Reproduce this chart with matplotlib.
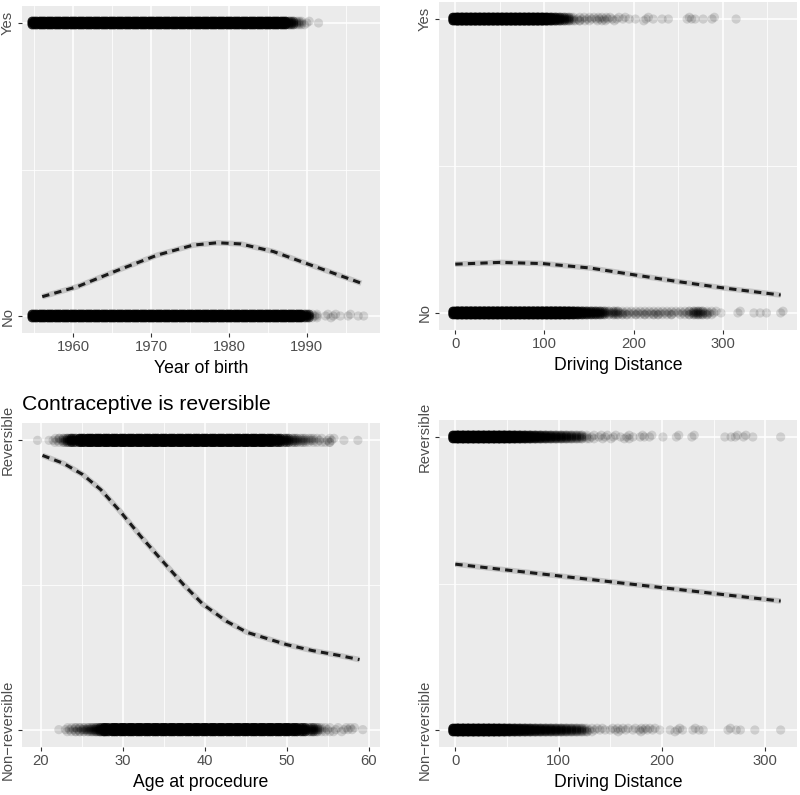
import numpy as np
import matplotlib
matplotlib.use("Agg")
import matplotlib.pyplot as plt

plt.rcParams['font.family'] = ['Liberation Sans', 'DejaVu Sans']

# ---- Panel A: year of birth (No / Yes) ----
birth_yes_x = [1955, 1956, 1957, 1958, 1959, 1960, 1961, 1962, 1963, 1964, 1965, 1966, 1967,
               1968, 1969, 1970, 1971, 1972, 1973, 1974, 1975, 1976, 1977, 1978, 1979, 1980,
               1981, 1982, 1983, 1984, 1985, 1986, 1987, 1988, 1989, 1990, 1991.5]
birth_yes_n = [110, 150, 150, 150, 150, 150, 150, 150, 150, 150, 150, 150, 150,
               150, 150, 150, 150, 150, 150, 150, 150, 150, 150, 150, 150, 150,
               150, 150, 150, 150, 150, 150, 120, 35, 10, 3, 1]
birth_no_x = [1955, 1956, 1957, 1958, 1959, 1960, 1961, 1962, 1963, 1964, 1965, 1966, 1967,
              1968, 1969, 1970, 1971, 1972, 1973, 1974, 1975, 1976, 1977, 1978, 1979, 1980,
              1981, 1982, 1983, 1984, 1985, 1986, 1987, 1988, 1989, 1990, 1991,
              1992.4, 1993.4, 1994.3, 1995.3, 1996.6, 1997.3]
birth_no_n = [110, 150, 150, 150, 150, 150, 150, 150, 150, 150, 150, 150, 150,
              150, 150, 150, 150, 150, 150, 150, 150, 150, 150, 150, 150, 150,
              150, 150, 150, 150, 150, 150, 150, 150, 140, 50, 6,
              2, 3, 1, 2, 1, 1]
birth_curve_x = [1956.0, 1960.5, 1965.6, 1970.8, 1975.4, 1978.5, 1981.5, 1985.7, 1990.5, 1997.0]
birth_curve_p = [0.066, 0.100, 0.155, 0.208, 0.242, 0.250, 0.246, 0.220, 0.174, 0.112]

# ---- Panel B: driving distance (No / Yes) ----
dist1_yes_x = [0, 5, 10, 15, 20, 25, 30, 35, 40, 45, 50, 55, 60, 65, 70, 75, 80, 85, 90, 95,
               100, 105, 110, 115, 120, 125, 130,
               137, 142, 148, 153, 158, 162, 167, 171, 176, 181, 188, 195, 202, 214, 222,
               232, 239, 260, 265, 269, 278, 288, 315]
dist1_yes_n = [150, 150, 150, 150, 150, 150, 150, 150, 150, 150, 150, 150, 150, 150, 150, 150,
               150, 150, 150, 140, 110, 60, 40, 30, 20, 14, 9,
               4, 3, 3, 3, 2, 4, 2, 3, 1, 3, 2, 1, 1, 3, 1,
               1, 1, 2, 1, 1, 1, 2, 1]
dist1_no_x = [0, 5, 10, 15, 20, 25, 30, 35, 40, 45, 50, 55, 60, 65, 70, 75, 80, 85, 90, 95,
              100, 105, 110, 115, 120, 125, 130, 135, 140, 145, 150, 155, 160, 165, 170, 175,
              180, 185, 190, 195, 200, 205, 210, 215, 220, 225, 230, 235, 240, 245, 250, 255,
              260, 265, 270, 275, 280, 285, 290, 298, 317, 335, 342, 349, 365]
dist1_no_n = [150, 150, 150, 150, 150, 150, 150, 150, 150, 150, 150, 150, 150, 150, 150, 150,
              150, 150, 150, 150, 150, 150, 150, 140, 120, 100, 80, 55, 40, 32, 26, 25, 22, 18,
              8, 6, 10, 6, 4, 3, 4, 3, 4, 3, 4, 4, 3, 3, 4, 3, 2, 3,
              4, 6, 10, 10, 6, 4, 2, 1, 2, 1, 1, 1, 2]
dist1_curve_x = [0, 49.6, 98, 151, 200, 249, 301, 365]
dist1_curve_p = [0.166, 0.172, 0.168, 0.153, 0.130, 0.107, 0.085, 0.061]

# ---- Panel C: age at procedure (Non-reversible / Reversible) ----
age_rev_x = [19.6, 21, 21.5, 22, 22.5, 23, 23.5, 24, 25, 26, 27, 28, 29, 30, 31, 32, 33, 34,
             35, 36, 37, 38, 39, 40, 41, 42, 43, 44, 45, 46, 47, 48, 49,
             50, 51, 52, 53, 54, 55, 55.5, 57, 58.7]
age_rev_n = [1, 1, 2, 3, 5, 10, 20, 45, 110, 150, 150, 150, 150, 150, 150, 150, 150, 150,
             150, 150, 150, 150, 150, 150, 150, 150, 150, 150, 150, 150, 140, 110, 70,
             35, 18, 12, 8, 5, 4, 3, 1, 1]
age_non_x = [22.2, 23, 23.5, 24, 24.5, 25, 25.5, 26, 26.5, 27, 27.5, 28, 29, 30, 31, 32, 33,
             34, 35, 36, 37, 38, 39, 40, 41, 42, 43, 44, 45, 46, 47, 48, 49, 50, 51, 52,
             53, 53.5, 54, 55, 56, 57, 57.5, 58, 59.3]
age_non_n = [1, 2, 3, 4, 5, 6, 7, 9, 12, 18, 35, 90, 150, 150, 150, 150, 150,
             150, 150, 150, 150, 150, 150, 150, 150, 150, 150, 150, 150, 150, 150, 150, 150,
             140, 110, 70, 25, 12, 8, 5, 3, 3, 2, 2, 1]
age_curve_x = [20.2, 22.8, 25.1, 27.3, 29.7, 32.2, 35.0, 37.4, 39.8, 42.7, 45.2, 47.6,
               50.0, 53.2, 56.5, 58.9]
age_curve_p = [0.948, 0.920, 0.882, 0.830, 0.754, 0.668, 0.578, 0.502, 0.433, 0.374, 0.336,
               0.315, 0.294, 0.273, 0.256, 0.242]

# ---- Panel D: driving distance (Non-reversible / Reversible) ----
dist2_rev_x = [0, 5, 10, 15, 20, 25, 30, 35, 40, 45, 50, 55, 60, 65, 70, 75, 80, 85, 90, 95,
               100, 105, 110, 115, 120, 125,
               132, 139, 145, 153, 160, 166, 172, 179, 183, 188, 201, 214, 229, 261, 267,
               271, 279, 288, 315]
dist2_rev_n = [150, 150, 150, 150, 150, 150, 150, 150, 150, 140, 120, 90, 70, 60, 50, 42, 35,
               30, 26, 22, 20, 18, 15, 12, 11, 7,
               4, 2, 3, 3, 1, 4, 1, 2, 1, 2, 1, 2, 2, 1, 1,
               2, 2, 1, 1]
dist2_non_x = [0, 5, 10, 15, 20, 25, 30, 35, 40, 45, 50, 55, 60, 65, 70, 75, 80, 85, 90, 95,
               100, 105, 110, 115, 120, 125, 130, 135,
               140, 145, 150, 155, 160, 165, 172, 178, 182, 186, 191, 198, 208, 215, 220,
               230, 236, 240, 264, 272, 276, 290, 315]
dist2_non_n = [150, 150, 150, 150, 150, 150, 150, 140, 120, 90, 70, 55, 48, 42, 38, 32, 28, 26,
               24, 22, 20, 18, 15, 14, 12, 9, 4, 2,
               2, 1, 2, 2, 3, 2, 2, 2, 3, 2, 2, 1, 1, 3, 1,
               2, 1, 1, 2, 1, 1, 1, 1]
dist2_curve_x = [0, 100, 200, 315]
dist2_curve_p = [0.566, 0.526, 0.486, 0.44]

POINT_ALPHA = 0.13
W, H = 800, 795

# fixed jitter pattern (x step, y step); the first n are used for n points
KERNEL = [(0, 0), (1, 1), (-1, -1), (1, -1), (-1, 1), (1, 0), (-1, 0), (0, 1), (0, -1)]


def box(left, top, right, bottom):
    # pixel box -> figure fraction rect
    return [left / W, (H - bottom) / H, (right - left) / W, (bottom - top) / H]


def style_axis(ax, xlim, ylim, xmajor, xminor, ylabels, xlabel):
    ax.set_facecolor('#EBEBEB')
    for s in ax.spines.values():
        s.set_visible(False)
    ax.set_xlim(*xlim)
    ax.set_ylim(*ylim)
    ax.set_xticks(xmajor)
    ax.set_xticks(xminor, minor=True)
    ax.set_yticks([0, 1])
    ax.set_yticks([0.5], minor=True)
    ax.set_yticklabels(ylabels, rotation=90, va='center')
    ax.grid(which='major', color='white', linewidth=1.1)
    ax.grid(which='minor', color='white', linewidth=0.55)
    ax.set_axisbelow(True)
    ax.tick_params(which='major', length=2.6, width=0.8, color='#333333',
                   labelsize=10.6, labelcolor='#4D4D4D', pad=2.5)
    ax.tick_params(which='minor', length=0)
    ax.set_xlabel(xlabel, fontsize=12.7, labelpad=4)


def draw_points(ax, xs, counts, yval, dx, dy):
    xs = np.array(xs, dtype=float)
    n = np.array(counts, dtype=float)
    # big groups are spread over the whole kernel, small ones use one slot per point
    per_copy = np.where(n > 9, 1 - (1 - POINT_ALPHA) ** (n / 9), POINT_ALPHA)
    for k, (kx, ky) in enumerate(KERNEL):
        alphas = np.where(n > k, per_copy, 0.0)
        ax.scatter(xs + kx * dx, np.full(len(xs), yval) + ky * dy, s=44, c='black',
                   alpha=alphas, linewidths=0, zorder=2)


def draw_curve(ax, xs, ps):
    ax.plot(xs, ps, color='#C4C4C4', linewidth=4.0, solid_capstyle='butt', zorder=3)
    ax.plot(xs, ps, color='#1A1A1A', linewidth=2.2, dashes=(2.4, 1.7), zorder=4)


fig = plt.figure(figsize=(8, 7.95), dpi=100)

# top left
ax1 = fig.add_axes(box(22, 6, 380, 333))
style_axis(ax1, (1953.4, 1999.4), (-0.058, 1.058), [1960, 1970, 1980, 1990],
           [1955, 1965, 1975, 1985, 1995], ['No', 'Yes'], 'Year of birth')
draw_points(ax1, birth_yes_x, birth_yes_n, 1, 0.3, 0.006)
draw_points(ax1, birth_no_x, birth_no_n, 0, 0.3, 0.006)
draw_curve(ax1, birth_curve_x, birth_curve_p)

# top right
ax2 = fig.add_axes(box(439, 2, 797, 330))
style_axis(ax2, (-18.3, 383.3), (-0.058, 1.058), [0, 100, 200, 300],
           [50, 150, 250, 350], ['No', 'Yes'], 'Driving Distance')
draw_points(ax2, dist1_yes_x, dist1_yes_n, 1, 2.6, 0.006)
draw_points(ax2, dist1_no_x, dist1_no_n, 0, 2.6, 0.006)
draw_curve(ax2, dist1_curve_x, dist1_curve_p)

# bottom left
ax3 = fig.add_axes(box(22, 423, 380, 747))
style_axis(ax3, (17.7, 61.4), (-0.06, 1.06), [20, 30, 40, 50, 60],
           [25, 35, 45, 55], ['Non\u2212reversible', 'Reversible'], 'Age at procedure')
draw_points(ax3, age_rev_x, age_rev_n, 1, 0.28, 0.007)
draw_points(ax3, age_non_x, age_non_n, 0, 0.28, 0.007)
draw_curve(ax3, age_curve_x, age_curve_p)
ax3.set_title('Contraceptive is reversible', loc='left', fontsize=15.2, pad=9)

# bottom right
ax4 = fig.add_axes(box(439, 420, 797, 747))
style_axis(ax4, (-15.8, 330.8), (-0.058, 1.058), [0, 100, 200, 300],
           [50, 150, 250], ['Non\u2212reversible', 'Reversible'], 'Driving Distance')
draw_points(ax4, dist2_rev_x, dist2_rev_n, 1, 2.3, 0.006)
draw_points(ax4, dist2_non_x, dist2_non_n, 0, 2.3, 0.006)
draw_curve(ax4, dist2_curve_x, dist2_curve_p)

fig.savefig('out.png', dpi=100)
